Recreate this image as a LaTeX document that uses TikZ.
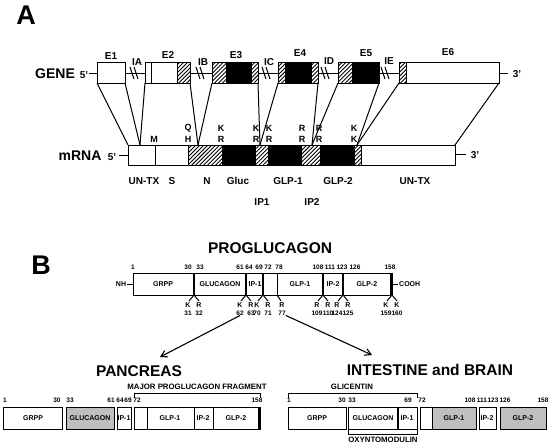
\documentclass[tikz,border=0pt]{standalone}
\usepackage{fontspec}
\setmainfont{Liberation Sans}
\usepackage{tikz}
\usetikzlibrary{patterns,patterns.meta,calc,positioning,arrows.meta}
\tikzset{
  ln/.style={line width=1pt},
  box/.style={draw, line width=1pt},
  hatch/.style={pattern={Lines[angle=45,distance=2.8pt,line width=0.9pt]}},
  stipple/.style={fill=black!25},
  thk/.style={line width=2.5pt},
  panel/.style={font=\bfseries\fontsize{27}{27}\selectfont, inner sep=0pt},
  ttl/.style={font=\bfseries\fontsize{15.5}{16}\selectfont, inner sep=0pt},
  rowlbl/.style={font=\bfseries\fontsize{14}{14}\selectfont, inner sep=0pt},
  lbl/.style={font=\bfseries\fontsize{10}{10}\selectfont, inner sep=0pt},
  kr/.style={font=\bfseries\fontsize{9}{9}\selectfont, inner sep=0pt},
  krs/.style={font=\bfseries\fontsize{7}{7}\selectfont, inner sep=0pt},
  inlbl/.style={font=\bfseries\fontsize{7}{7}\selectfont, inner sep=0pt},
  numlbl/.style={font=\bfseries\fontsize{6.5}{6.5}\selectfont, inner sep=0pt},
  brk/.style={font=\bfseries\fontsize{7.8}{8}\selectfont, inner sep=0pt},
  arr/.style={line width=1.1pt, -{Straight Barb[length=6pt,width=7pt]}},
}
\begin{document}
\begin{tikzpicture}[x=1pt,y=-1pt]
\useasboundingbox (0,0) rectangle (551,444);
% panel A
\node[panel] (pa) at (26,15) {A};
\node[rowlbl] (gene) at (55,74) {GENE};
\node[lbl] (g5) at (84,75) {5'};
\draw[ln] (89,73) -- (508,73);
\node[lbl] (g3) at (517,74) {3'};
\foreach \a/\b in {97/125,145/190,212/258,278/318,338/379,399/499}
  \draw[box,fill=white] (\a,63) rectangle (\b,83);
\foreach \a/\b in {177/190,212/226,252/258,278/285,312/318,338/352,399/406}
  \fill[hatch] (\a,63) rectangle (\b,83);
\foreach \a/\b in {226/252,285/312,352/379}
  \fill (\a,63) rectangle (\b,83);
\foreach \a/\b in {97/125,145/190,212/258,278/318,338/379,399/499,177/190,399/406}
  \draw[box] (\a,63) rectangle (\b,83);
\draw[ln] (151,63) -- (151,83);
% intron breaks
\foreach \c in {135,201,267,326,386} {
  \draw[ln] (\c-5,67) -- (\c-1,79);
  \draw[ln] (\c-1,67) -- (\c+3,79);
}
\foreach \x/\y/\t in {111/56/E1,168/55/E2,236/55/E3,300/53/E4,366/53/E5,448/52/E6,
  137/62/IA,203/62/IB,269/62/IC,329/61/ID,389/61/IE}
  \node[lbl] (\t) at (\x,\y) {\t};
% mRNA
\node[rowlbl] (mrna) at (80,156) {mRNA};
\node[lbl] (m5) at (112,157) {5'};
\draw[ln] (119,155) -- (128,155);
\draw[ln] (455,154) -- (466,154);
\node[lbl] (m3) at (475,155) {3'};
\foreach \a/\b in {188/222,256/268,302/320,354/361}
  \fill[hatch] (\a,145) rectangle (\b,165);
\foreach \a/\b in {222/256,268/302,320/354}
  \fill (\a,145) rectangle (\b,165);
\draw[box] (128,145) rectangle (455,165);
\foreach \a/\b in {188/222,354/361}
  \draw[box] (\a,145) rectangle (\b,165);
\draw[ln] (155,145) -- (155,165);
\foreach \g/\m in {97/128,125/140,145/140,190/198,212/198,258/260,278/260,
  318/312,338/312,379/357,399/357,499/455}
  \draw[ln] (\g,83) -- (\m,145);
\foreach \x/\t/\b in {188/Q/H,221/K/R,256/K/R,269/K/R,302/R/R,319/R/R,354/K/K} {
  \node[kr] at (\x,128) {\t};
  \node[kr] at (\x,139) {\b};
}
\node[kr] (met) at (154,139) {M};
\foreach \x/\t in {144/UN-TX,172/S,207/N,238/Gluc,288/GLP-1,338/GLP-2,415/UN-TX}
  \node[lbl] at (\x,181) {\t};
\node[lbl] (ip1) at (262,202) {IP1};
\node[lbl] (ip2) at (312,202) {IP2};
% panel B
\node[panel] (pb) at (41,265) {B};
\node[ttl] (proglu) at (270,248) {PROGLUCAGON};
\node[inlbl] (nh) at (121,284) {NH};
\draw[ln] (127,284) -- (133,284);
\draw[box] (133,273) rectangle (392,295);
\draw[ln] (392,284) -- (398,284);
\node[inlbl,anchor=west] (cooh) at (399,284) {COOH};
\foreach \d in {194,246,263,323,343}
  \draw[thk] (\d,273) -- (\d,295);
\draw[thk] (391,273) -- (391,295);
\draw[ln] (277,273) -- (277,295);
\foreach \x/\t in {163/GRPP,220/GLUCAGON,255/IP-1,300/GLP-1,333/IP-2,367/GLP-2}
  \node[inlbl] at (\x,284) {\t};
\foreach \x/\t in {133/1,188/30,200/33,240/61,249/64,259/69,268/72,279/78,
  318/108,330/111,342/123,355/126,390/158}
  \node[numlbl] at (\x,267) {\t};
\foreach \d/\l/\r/\nl/\nr in {194/K/R/31/32,246/K/R/62/63,263/K/R/70/71,
  323/R/R/109/110,343/R/R/124/125,392/K/K/159/160} {
  \draw[ln] (\d-5,301) -- (\d,295) -- (\d+5,301);
  \node[krs] at (\d-6,305) {\l};
  \node[krs] at (\d+5,305) {\r};
  \node[numlbl] (n\nl) at (\d-6,313) {\nl};
  \node[numlbl] (n\nr) at (\d+5,313) {\nr};
}
\draw[ln] (277,295) -- (281,301);
\node[krs] (r77) at (282,305) {R};
\node[numlbl] (n77) at (282,313) {77};
% processing
\node[ttl] (pancreas) at (139,371) {PANCREAS};
\node[ttl] (intestine) at (430,370) {INTESTINE and BRAIN};
\coordinate (ptip) at (160,357);
\coordinate (itip) at (372,355);
\draw[arr] (n62.south) -- (ptip);
\draw[arr] (n77.south east) -- (itip);
% pancreas fragments
\fill[stipple] (66,407) rectangle (114,429);
\foreach \a/\b in {3/62,66/114,117/131,134/260}
  \draw[box] (\a,407) rectangle (\b,429);
\foreach \d in {147,194,213}
  \draw[ln] (\d,407) -- (\d,429);
\draw[thk] (259,407) -- (259,429);
\foreach \x/\t in {33/GRPP,90/GLUCAGON,124/IP-1,170/GLP-1,203/IP-2,236/GLP-2}
  \node[inlbl] at (\x,418) {\t};
\foreach \x/\t in {5/1,57/30,70/33,111/61,120/64,128/69,137/72,257/158}
  \node[numlbl] at (\x,400) {\t};
\draw[ln] (134,398) -- (134,393) -- (260,393) -- (260,398);
\node[brk] (major) at (197,387) {MAJOR PROGLUCAGON FRAGMENT};
% intestine fragments
\fill[stipple] (432,407) rectangle (476,429);
\fill[stipple] (500,407) rectangle (546,429);
\foreach \a/\b in {288/346,348/417,420/476,479/496,500/546}
  \draw[box] (\a,407) rectangle (\b,429);
\draw[thk] (398,407) -- (398,429);
\draw[ln] (432,407) -- (432,429);
\foreach \x/\t in {317/GRPP,373/GLUCAGON,407/IP-1,454/GLP-1,487/IP-2,523/GLP-2}
  \node[inlbl] at (\x,418) {\t};
\foreach \x/\t in {289/1,342/30,352/33,408/69,422/72,470/108,482/111,493/123,505/126,543/158}
  \node[numlbl] at (\x,400) {\t};
\draw[ln] (288,398) -- (288,393) -- (417,393) -- (417,398);
\node[brk] (glicentin) at (352,387) {GLICENTIN};
\draw[ln] (348,430) -- (348,434) -- (417,434) -- (417,430);
\node[brk] (oxm) at (383,440) {OXYNTOMODULIN};
\end{tikzpicture}
\end{document}
